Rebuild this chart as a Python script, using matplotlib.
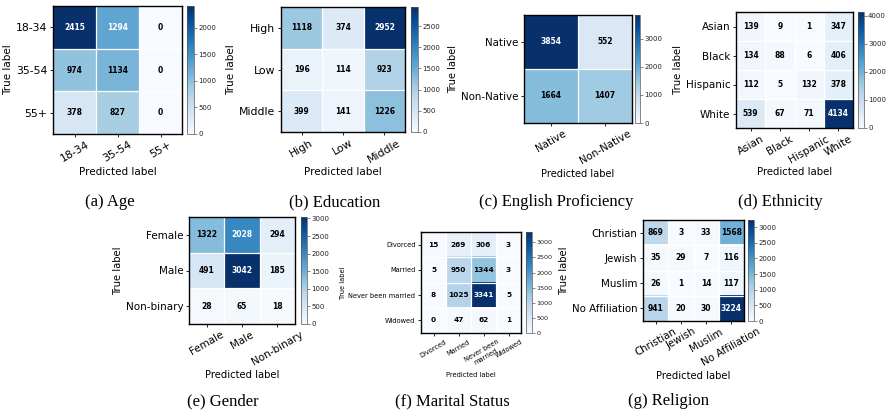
import numpy as np
import matplotlib
matplotlib.use("Agg")
import matplotlib.pyplot as plt
from matplotlib.ticker import MultipleLocator

# confusion matrices (rows = true, cols = predicted)
age_labels = ["18-34", "35-54", "55+"]
age_cm = [[2415, 1294, 0], [974, 1134, 0], [378, 827, 0]]

edu_labels = ["High", "Low", "Middle"]
edu_cm = [[1118, 374, 2952], [196, 114, 923], [399, 141, 1226]]

eng_labels = ["Native", "Non-Native"]
eng_cm = [[3854, 552], [1664, 1407]]

eth_labels = ["Asian", "Black", "Hispanic", "White"]
eth_cm = [[139, 9, 1, 347], [134, 88, 6, 406], [112, 5, 132, 378], [539, 67, 71, 4134]]

gen_labels = ["Female", "Male", "Non-binary"]
gen_cm = [[1322, 2028, 294], [491, 3042, 185], [28, 65, 18]]

mar_labels = ["Divorced", "Married", "Never been married", "Widowed"]
mar_xlabels = ["Divorced", "Married", "Never been\nmarried", "Widowed"]
mar_cm = [[15, 269, 306, 3], [5, 950, 1344, 3], [8, 1025, 3341, 5], [0, 47, 62, 1]]

rel_labels = ["Christian", "Jewish", "Muslim", "No Affiliation"]
rel_cm = [[869, 3, 33, 1568], [35, 29, 7, 116], [26, 1, 14, 117], [941, 20, 30, 3224]]

W, H = 892, 416
fig = plt.figure(figsize=(W / 100, H / 100), dpi=100)


def px(x0, y0, x1, y1):
    return [x0 / W, 1 - y1 / H, (x1 - x0) / W, (y1 - y0) / H]


def draw_cm(box, cbox, cm, ylabels, xlabels, step, tick_fs, lab_fs, ann_fs, cb_fs):
    cm = np.array(cm)
    ax = fig.add_axes(px(*box))
    im = ax.imshow(cm, cmap="Blues", vmin=0, vmax=cm.max(), aspect="auto")
    n = cm.shape[0]
    for i in range(n - 1):
        ax.axhline(i + 0.5, color="white", lw=0.9)
        ax.axvline(i + 0.5, color="white", lw=0.9)
    thresh = cm.max() / 2.0
    for i in range(n):
        for j in range(n):
            ax.text(j, i, str(cm[i, j]), ha="center", va="center",
                    fontsize=ann_fs, fontweight="bold",
                    color="white" if cm[i, j] > thresh else "black")
    ax.set_xticks(range(n))
    ax.set_yticks(range(n))
    ax.set_xticklabels(xlabels, rotation=30, fontsize=tick_fs)
    ax.set_yticklabels(ylabels, fontsize=tick_fs)
    ax.tick_params(length=2.5, width=0.6, pad=1.5)
    ax.set_xlabel("Predicted label", fontsize=lab_fs, labelpad=2)
    ax.set_ylabel("True label", fontsize=lab_fs, labelpad=2)
    for s in ax.spines.values():
        s.set_linewidth(1.0)
    cax = fig.add_axes(px(*cbox))
    cb = fig.colorbar(im, cax=cax)
    cb.locator = MultipleLocator(step)
    cb.update_ticks()
    cb.outline.set_linewidth(0.5)
    cb.outline.set_edgecolor("#555555")
    cax.tick_params(labelsize=cb_fs, length=2, width=0.5, pad=1,
                    color="#555555", labelcolor="#222222")
    return ax


def caption(x, y, s):
    fig.text(x / W, 1 - y / H, s, ha="center", va="baseline",
             family="Liberation Serif", fontsize=12)


draw_cm((53, 6, 182, 134), (187, 6, 194, 134), age_cm, age_labels, age_labels,
        500, 7.8, 7.5, 5.5, 5)
caption(110, 206, "(a) Age")

draw_cm((281, 7, 405, 132), (411, 7, 418, 132), edu_cm, edu_labels, edu_labels,
        500, 7.8, 7.5, 5.5, 5)
caption(335, 206, "(b) Education")

draw_cm((524, 15, 632, 123), (635, 15, 640, 123), eng_cm, eng_labels, eng_labels,
        1000, 7.4, 7.1, 5.5, 5)
caption(556, 206, "(c) English Proficiency")

draw_cm((736, 12, 853, 128), (858, 12, 864, 128), eth_cm, eth_labels, eth_labels,
        1000, 7.5, 7.3, 5.5, 5)
caption(780, 206, "(d) Ethnicity")

draw_cm((189, 217, 295, 324), (301, 217, 307, 324), gen_cm, gen_labels, gen_labels,
        500, 7.5, 7.2, 5.5, 5)
caption(223, 405, "(e) Gender")

draw_cm((421, 232, 521, 333), (526, 232, 532, 333), mar_cm, mar_labels, mar_xlabels,
        500, 4.8, 4.8, 5.3, 4.6)
caption(452, 405, "(f) Marital Status")

draw_cm((643, 220, 744, 321), (748, 220, 754, 321), rel_cm, rel_labels, rel_labels,
        500, 7.4, 7.2, 5.5, 5)
caption(669, 405, "(g) Religion")

fig.savefig("out.png", dpi=100)
